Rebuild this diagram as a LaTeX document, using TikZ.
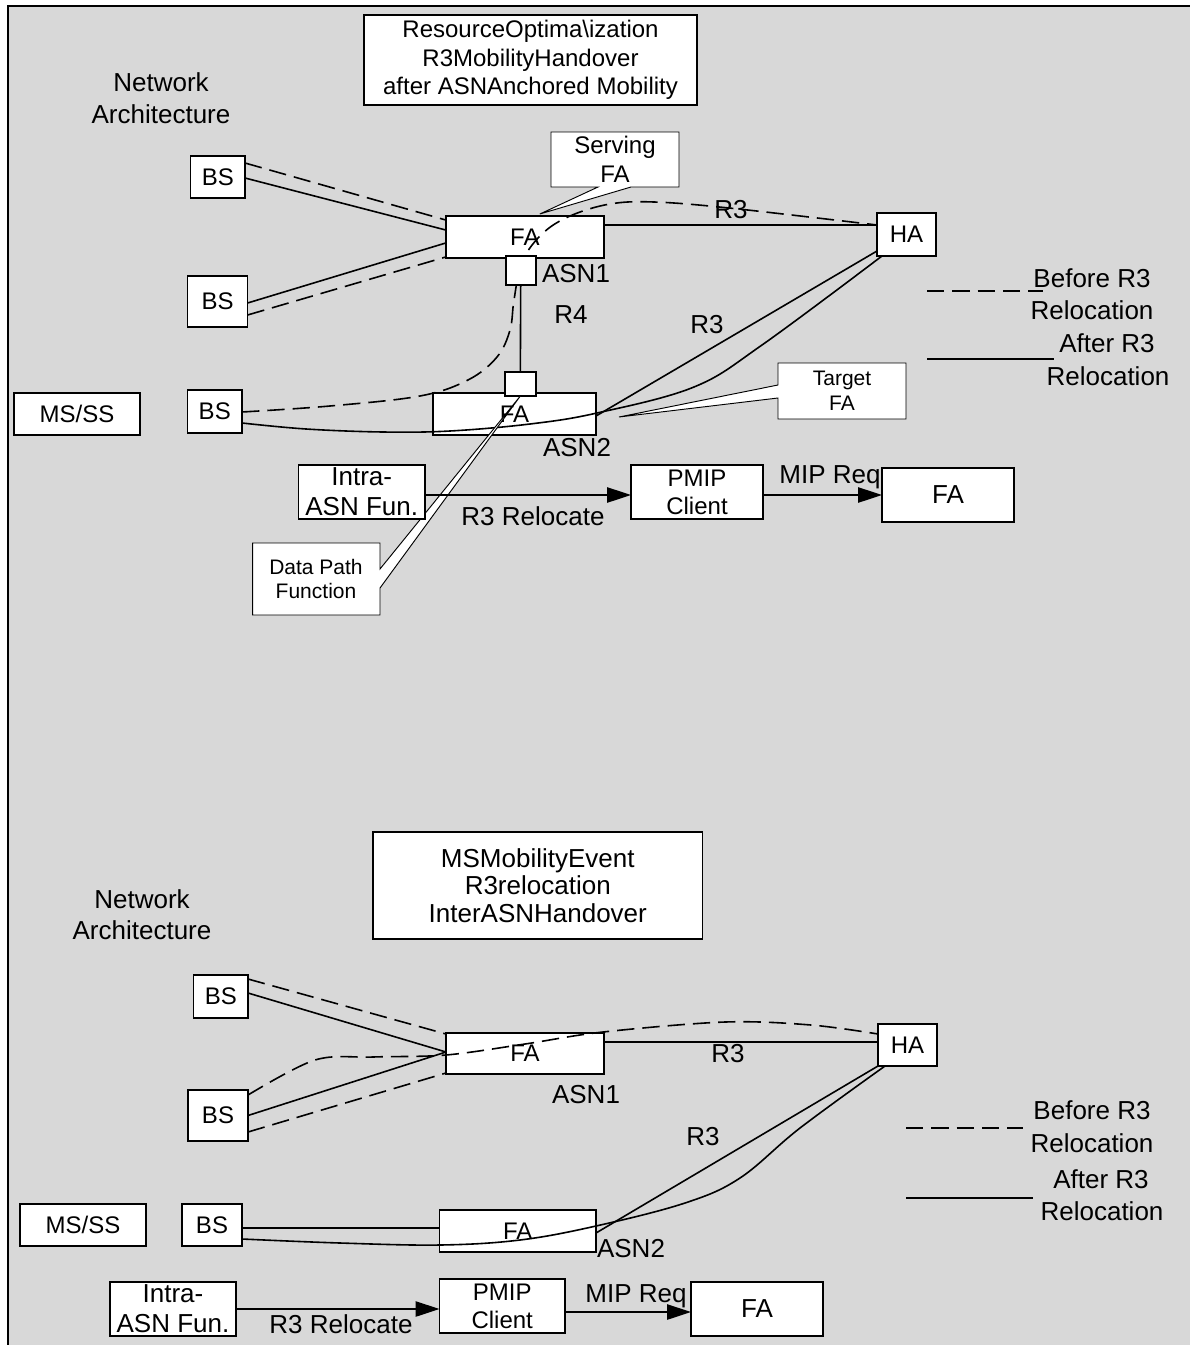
\documentclass[tikz,border=0pt]{standalone}
\usepackage{fontspec}
\setmainfont{Liberation Sans}
\usetikzlibrary{arrows.meta,calc}
\definecolor{bg}{RGB}{216,216,216}
\begin{document}
\begin{tikzpicture}[x=0.75pt,y=-0.75pt,
 bx/.style={draw, fill=white, line width=1.3pt, inner sep=0pt, outer sep=0pt},
 wh/.style 2 args={minimum width=#1*0.75pt, minimum height=#2*0.75pt},
 ln/.style={line width=1.2pt},
 dln/.style={line width=1.2pt, dash pattern=on 13pt off 6pt},
 co/.style={draw, fill=white, line width=0.7pt, line join=miter},
 big/.style={font=\fontsize{19.5}{24}\selectfont},
 mid/.style={font=\fontsize{18}{21}\selectfont},
 sml/.style={font=\fontsize{15.75}{18.5}\selectfont},
 lbl/.style={anchor=base, inner sep=0pt},
 arr/.style={line width=1.2pt, -{Triangle[length=18pt,width=11.5pt]}}
]
\useasboundingbox (0,0) rectangle (1190,1345);
\fill[bg] (8,6) rectangle (1190,1345);
\draw[line width=1.5pt] (8,1345) -- (8,6) -- (1190,6);

% ================= TOP DIAGRAM =================
\node[bx, wh={333}{90}, align=center, font=\fontsize{18}{21.3}\selectfont] (t1) at (530.5,60) {ResourceOptima\textbackslash ization\\R3MobilityHandover\\after ASNAnchored Mobility};
\node[lbl, big] (na1) at (161,91) {Network};
\node[lbl, big] (nb1) at (161,123) {Architecture};

\node[bx, wh={158.3}{42}, mid] (fa1) at (524.85,237) {FA};
\node[bx, wh={163}{42}, mid] (fa2) at (514.5,414) {FA};
\node[bx, wh={54.4}{42}, mid] (bs1) at (217.8,177) {BS};
\node[bx, wh={60.1}{51}, mid] (bs2) at (217.55,301.5) {BS};
\node[bx, wh={54.5}{43}, mid] (bs3) at (214.75,411.5) {BS};
\node[bx, wh={126}{42}, mid] (ms1) at (77,414) {MS/SS};
\node[bx, wh={59}{43}, mid] (ha1) at (906.5,234.5) {HA};

\node[lbl, big] (asn1) at (576,282) {ASN1};
\node[lbl, big] (asn2) at (577,456) {ASN2};
\node[lbl, big] (r4) at (571,323) {R4};
\node[lbl, big] (r3a) at (731,218) {R3};
\node[lbl, big] (r3b) at (707,333) {R3};

% BS - FA1
\draw[dln] ([shift={(0,-14)}]bs1.east) -- ([shift={(0,-17)}]fa1.west);
\draw[ln] ([shift={(0,1)}]bs1.east) -- ([shift={(0,-7)}]fa1.west);
\draw[ln] ([shift={(0,1.5)}]bs2.east) -- ([shift={(0,6)}]fa1.west);
\draw[dln] ([shift={(0,13.5)}]bs2.east) -- ([shift={(0,20)}]fa1.west);
% dashed BS3 -> HA (before)
\draw[dln] plot[smooth, tension=0.6] coordinates {([shift={(0,0.5)}]bs3.east) (330,406) (420,396) (468,380) (497,357) (510,330) (514,300) (522,262) (542,234) (570,216) (610,204) (654,202) (729,208) ([shift={(0,-9.5)}]ha1.west)};
% FA1 - HA
\draw[ln] ([shift={(0,-12)}]fa1.east) -- ([shift={(0,-9.5)}]ha1.west);
% HA - FA2 straight
\draw[ln] ([shift={(0,-5)}]ha1.south west) -- ([shift={(0,2)}]fa2.east);
% BS3 -> HA curve (after)
\draw[ln] plot[smooth, tension=0.6] coordinates {([shift={(0,11.5)}]bs3.east) (306,429) (383,432) (450,431) (530,424) (597,413) (694,387) (762,345) ([shift={(5,0)}]ha1.south west)};

% data path squares
\node[bx, wh={30}{29.3}] (sq1) at (520.7,270.35) {};
\node[bx, wh={30.7}{24}] (sq2) at (520.35,384) {};
\draw[ln] (sq1.south) -- (sq2.north);

% callouts
\draw[co] (551,132) -- (679,132) -- (679,187) -- (631,187) -- ([shift={(15,-2)}]fa1.north) -- (598,187) -- (551,187) -- cycle;
\node[align=center, font=\fontsize{18}{21.75}\selectfont] (serv) at (615,159.5) {Serving\\FA};
\draw[co] (778,363) -- (906,363) -- (906,419) -- (778,419) -- (778,398) -- ([shift={(23,3)}]fa2.east) -- (778,385) -- cycle;
\node[align=center, font=\fontsize{15.75}{18.75}\selectfont] (targ) at (842,391) {Target\\FA};
\draw[co] (252.6,543) -- (380,543) -- (380,569) -- (sq2.south) -- (380,588) -- (380,615) -- (252.6,615) -- cycle;
\node[align=center, font=\fontsize{15.75}{18}\selectfont] (dpf) at (316,579) {Data Path\\Function};

% relocation row
\node[bx, wh={126.5}{54}, align=center, font=\fontsize{19.5}{22.5}\selectfont] (intra1) at (361.75,492) {Intra-\\ASN Fun.};
\node[bx, wh={132}{54}, mid, align=center] (pmip1) at (697,492) {PMIP\\Client};
\node[bx, wh={132}{54}, big] (far1) at (948,495) {FA};
\draw[arr] ([shift={(0,3)}]intra1.east) -- ([shift={(0,3)}]pmip1.west);
\draw[arr] (pmip1.east |- far1.west) -- (far1.west);
\node[lbl, big] (rr1) at (533,525) {R3 Relocate};
\node[lbl, big] (mr1) at (830,483) {MIP Req};

% legend
\draw[dln] (927,291) -- (1043,291);
\draw[ln] (927,359) -- (1054,359);
\node[lbl, big] (lb1) at (1092,287) {Before R3};
\node[lbl, big] (lb2) at (1092,319) {Relocation};
\node[lbl, big] (lb3) at (1107,352) {After R3};
\node[lbl, big] (lb4) at (1108,385) {Relocation};

% ================= BOTTOM DIAGRAM =================
\node[bx, wh={329.5}{107}, align=center, font=\fontsize{19.5}{20.5}\selectfont] (t2) at (537.75,885.5) {MSMobilityEvent\\R3relocation\\InterASNHandover};
\node[lbl, big] (na2) at (142,908) {Network};
\node[lbl, big] (nb2) at (142,939) {Architecture};

\node[bx, wh={158}{41}, mid] (faa) at (525,1053.5) {FA};
\node[bx, wh={156.5}{42}, mid] (fac) at (517.75,1231) {FA};
\node[bx, wh={54.4}{43}, mid] (bsa) at (220.8,996.5) {BS};
\node[bx, wh={60}{51}, mid] (bsb) at (218,1115.5) {BS};
\node[bx, wh={60}{42}, mid] (bsc) at (212,1225) {BS};
\node[bx, wh={126}{42}, mid] (ms2) at (83,1225) {MS/SS};
\node[bx, wh={59}{42}, mid] (ha2) at (907.5,1045) {HA};

\node[lbl, big] (asn1b) at (586,1103) {ASN1};
\node[lbl, big] (asn2b) at (631,1257) {ASN2};
\node[lbl, big] (r3c) at (728,1062) {R3};
\node[lbl, big] (r3d) at (703,1145) {R3};

\draw[dln] ([shift={(0,-17.5)}]bsa.east) -- ([shift={(0,-19.5)}]faa.west);
\draw[ln] ([shift={(0,-3.5)}]bsa.east) -- ([shift={(0,-1.5)}]faa.west);
\draw[ln] (bsb.east) -- ([shift={(0,-1.5)}]faa.west);
\draw[dln] ([shift={(0,16.5)}]bsb.east) -- ([shift={(0,19.5)}]faa.west);
\draw[dln] plot[smooth, tension=0.55] coordinates {([shift={(0,-20.5)}]bsb.east) (315,1060) (373,1057) (446,1055) (525,1044) (603,1032) (725,1022) (811,1025) ([shift={(0,-11)}]ha2.west)};
\draw[ln] ([shift={(0,-11.5)}]faa.east) -- ([shift={(0,-3)}]ha2.west);
\draw[ln] ([shift={(0,3)}]bsc.east) -- ([shift={(0,-3)}]fac.west);
\draw[ln] (ha2.south west) -- ([shift={(0,2)}]fac.east);
\draw[ln] plot[smooth, tension=0.6] coordinates {([shift={(0,14)}]bsc.east) (340,1243) (440,1245) (520,1240) (596,1226) (685,1203) (740,1178) (800,1128) ([shift={(7,0)}]ha2.south west)};

\node[bx, wh={126}{54}, align=center, font=\fontsize{19.5}{22.5}\selectfont] (intra2) at (173,1309) {Intra-\\ASN Fun.};
\node[bx, wh={125.5}{54}, mid, align=center] (pmip2) at (502.25,1306) {PMIP\\Client};
\node[bx, wh={132}{54}, big] (far2) at (757,1309) {FA};
\draw[arr] (intra2.east) -- (intra2.east -| pmip2.west);
\draw[arr] ([shift={(0,6)}]pmip2.east) -- ([shift={(0,3)}]far2.west);
\node[lbl, big] (rr2) at (341,1333) {R3 Relocate};
\node[lbl, big] (mr2) at (636,1302) {MIP Req};

\draw[dln] (906,1128) -- (1023,1128);
\draw[ln] (906,1198) -- (1033,1198);
\node[lbl, big] (lb5) at (1092,1119) {Before R3};
\node[lbl, big] (lb6) at (1092,1152) {Relocation};
\node[lbl, big] (lb7) at (1101,1188) {After R3};
\node[lbl, big] (lb8) at (1102,1220) {Relocation};
\end{tikzpicture}
\end{document}
